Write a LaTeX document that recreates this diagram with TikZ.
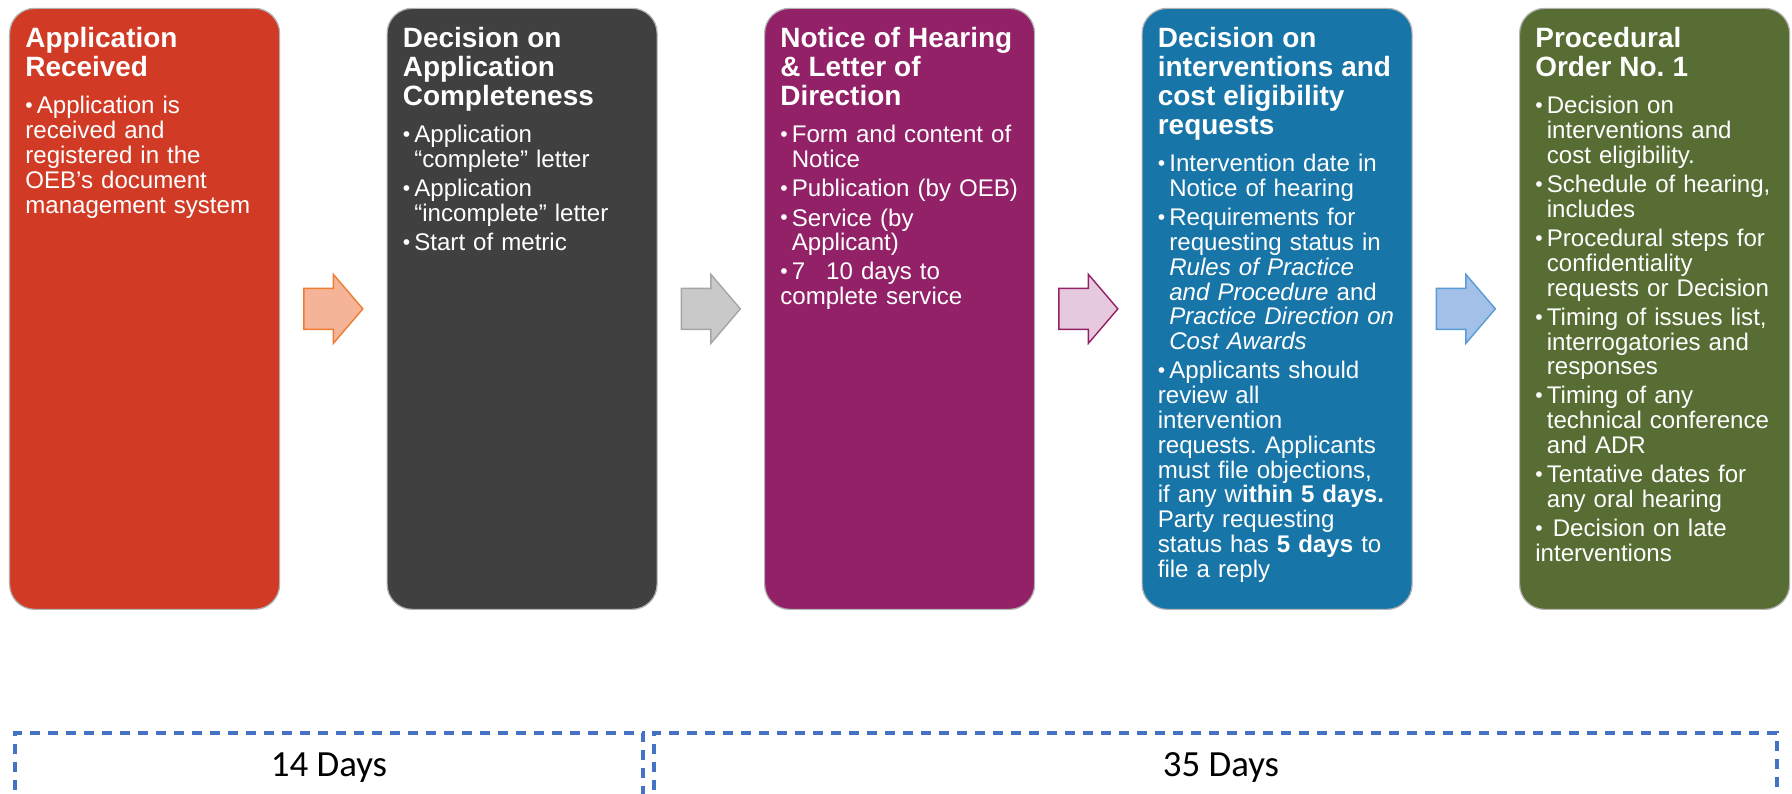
\documentclass[tikz,border=0pt]{standalone}
\usepackage{fontspec}
\setmainfont{Liberation Sans}
\newfontfamily\daysfont{Carlito}
\usetikzlibrary{positioning,calc}
\frenchspacing

\definecolor{oebred}{RGB}{209,59,38}
\definecolor{oebgrey}{RGB}{64,64,64}
\definecolor{oebpurple}{RGB}{147,33,104}
\definecolor{oebblue}{RGB}{23,117,168}
\definecolor{oebgreen}{RGB}{87,109,51}
\definecolor{spanblue}{RGB}{68,114,196}

\newcommand\titlefont{\fontsize{15.9}{16.5}\selectfont\bfseries}
\newcommand\bulletfont{\fontsize{13.7}{14.1}\selectfont\setlength{\parskip}{0.087cm}}
\newcommand\stagetitle[1]{{\titlefont #1\par}\vspace{0.16cm}}
\newcommand\bpoint{\par\hangindent=0.23cm\hangafter=1%
  \makebox[0.23cm][l]{\raisebox{0.025cm}{\fontsize{12}{12}\selectfont\textbullet}}}

\tikzset{% one box per stage of the process
   stage/.style={draw=black!30, line width=0.7pt, rounded corners=0.5cm,
     minimum width=5.4cm, minimum height=12.02cm, inner sep=0mm, anchor=south west},
   stagetext/.style={text=white, text width=5cm, inner sep=0mm, align=left,
     font=\bulletfont},
   % the dashed frames under the boxes
   span/.style={draw=spanblue, line width=1.9pt, dash pattern=on 0.2cm off 0.16cm},
   spanlabel/.style={anchor=base, inner sep=0mm, font=\daysfont\fontsize{21}{25}\selectfont},
   % and a pic for the fat arrows between the boxes
   pics/blockarrow/.style args={#1,#2}{
     code={\filldraw[draw=#1, fill=#2, line width=0.8pt]
             (-0.59,-0.41) -- (0,-0.41) -- (0,-0.69) -- (0.59,0)
             -- (0,0.69) -- (0,0.41) -- (-0.59,0.41) -- cycle;
     }
   }
}

\begin{document}
\begin{tikzpicture}
   \useasboundingbox (0,0) rectangle (35.84,15.88);
   \foreach \i/\name/\col in {0/recv/oebred, 1/compl/oebgrey, 2/notice/oebpurple,
                              3/interv/oebblue, 4/order/oebgreen} {
       \node[stage, fill=\col] (\name) at (0.18+7.55*\i,3.68) {};
   }
   \foreach \a/\b/\line/\fill in {recv/compl/{rgb,255:red,237;green,125;blue,49}/{rgb,255:red,245;green,180;blue,152},
                                  compl/notice/{rgb,255:red,165;green,165;blue,165}/{rgb,255:red,201;green,201;blue,201},
                                  notice/interv/oebpurple/{rgb,255:red,230;green,201;blue,221},
                                  interv/order/{rgb,255:red,91;green,155;blue,213}/{rgb,255:red,163;green,193;blue,232}} {
       \draw ($(\a.east)!0.5!(\b.west)$) pic{blockarrow={\line,\fill}};
   }

   \node[stagetext, below right=0.39cm and 0.32cm of recv.north west] (recvtext) {%
     \stagetitle{Application\newline Received}
     \bpoint Application is\newline received and\newline registered in the\newline
       OEB’s document\newline management system};
   \node[stagetext, below right=0.39cm and 0.32cm of compl.north west] (compltext) {%
     \stagetitle{Decision on\newline Application\newline Completeness}
     \bpoint Application\newline “complete” letter
     \bpoint Application\newline “incomplete” letter
     \bpoint Start of metric};
   \node[stagetext, below right=0.39cm and 0.32cm of notice.north west] (noticetext) {%
     \stagetitle{Notice of Hearing\newline \& Letter of\newline Direction}
     \bpoint Form and content of\newline Notice
     \bpoint Publication (by OEB)
     \bpoint Service (by\newline Applicant)
     \bpoint 7\hspace{0.42cm}10 days to\newline complete service};
   \node[stagetext, below right=0.39cm and 0.32cm of interv.north west] (intervtext) {%
     \stagetitle{Decision on\newline interventions and\newline cost eligibility\newline requests}
     \bpoint Intervention date in\newline Notice of hearing
     \bpoint Requirements for\newline requesting status in\newline
       \textit{Rules of Practice}\newline \textit{and Procedure} and\newline
       \textit{Practice Direction on}\newline \textit{Cost Awards}
     \bpoint Applicants should\newline review all\newline intervention\newline
       requests. Applicants\newline must file objections,\newline
       if any w\textbf{ithin 5 days.}\newline Party requesting\newline
       status has \textbf{5 days} to\newline file a reply};
   \node[stagetext, below right=0.39cm and 0.32cm of order.north west] (ordertext) {%
     \stagetitle{Procedural\newline Order No. 1}
     \bpoint Decision on\newline interventions and\newline cost eligibility.
     \bpoint Schedule of hearing,\newline includes
     \bpoint Procedural steps for\newline confidentiality\newline requests or Decision
     \bpoint Timing of issues list,\newline interrogatories and\newline responses
     \bpoint Timing of any\newline technical conference\newline and ADR
     \bpoint Tentative dates for\newline any oral hearing
     \bpoint \hspace{0.12cm}Decision on late\newline interventions};

   % time spans
   \draw[span] (0.30,-1) rectangle (12.86,1.22);
   \draw[span] (13.08,-1) rectangle (35.54,1.22);
   \node[spanlabel] (days14) at (6.58,0.34) {14 Days};
   \node[spanlabel] (days35) at (24.42,0.34) {35 Days};
\end{tikzpicture}
\end{document}
